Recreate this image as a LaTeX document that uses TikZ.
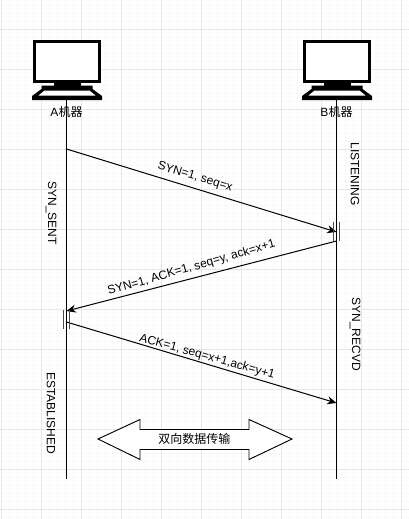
\documentclass[tikz,border=0pt]{standalone}
\usepackage{fontspec}
\setmainfont{Liberation Sans}
\newfontfamily\cjk{Noto Sans CJK SC}
\usepackage{xcolor}
\usetikzlibrary{arrows.meta,positioning,calc}
\definecolor{gridminor}{HTML}{F8F8F8}
\definecolor{gridmajor}{HTML}{E6E6E6}

\begin{document}
\begin{tikzpicture}[
  x=0.75pt,y=-0.75pt,
  lifeline/.style={draw=black,line width=0.85pt},
  msg/.style={draw=black,line width=0.75pt,-{Stealth[length=7pt,width=6pt]}},
  tick/.style={draw=black!70,line width=0.6pt},
  lbl/.style={font=\fontsize{9}{11}\selectfont,inner sep=0pt},
  state/.style={lbl,rotate=-90},
  pc/.pic={
    \fill (-34,-43.5) rectangle (34.5,0);
    \fill[white] (-30.5,-40) rectangle (31,-3.5);
    \fill (-13,0) rectangle (14,3);
    \fill (-25,2.5) -- (26,2.5) -- (26,6) -- (35.5,13) -- (35.5,17) -- (-34.5,17) -- (-34.5,13) -- (-25,6) -- cycle;
    \fill[white] (-22,7.5) -- (23,7.5) -- (29,12.5) -- (-28,12.5) -- cycle;
  }]
 \useasboundingbox (0,0) rectangle (409,519);
 \fill[white] (0,0) rectangle (409,519);
 % grid
 \foreach \i in {0,...,51} \draw[gridminor,line width=0.5pt] (1.7+\i*8,0)--(1.7+\i*8,519);
 \foreach \i in {0,...,64} \draw[gridminor,line width=0.5pt] (0,5.3+\i*8)--(409,5.3+\i*8);
 \foreach \i in {0,...,10} \draw[gridmajor,line width=0.5pt] (1.7+\i*40,0)--(1.7+\i*40,519);
 \foreach \i in {0,...,12} \draw[gridmajor,line width=0.5pt] (0,29.3+\i*40)--(409,29.3+\i*40);

 % lifelines
 \coordinate (a top) at (66.5,99);
 \coordinate (a end) at (66.5,479);
 \coordinate (b top) at (336.5,99);
 \coordinate (b end) at (336.5,479);
 \draw[lifeline] (a top)--(a end);
 \draw[lifeline] (b top)--(b end);

 % machines
 \pic at (66.5,83) {pc};
 \pic at (336.5,83) {pc};
 \node[lbl] (a name) at (66.5,112) {A{\cjk 机器}};
 \node[lbl] (b name) at (336.5,112) {B{\cjk 机器}};

 % handshake
 \coordinate (a1) at (66.5,149);
 \coordinate (b1) at (336.5,232);
 \coordinate (b2) at (336.5,241);
 \coordinate (a2) at (66.5,311);
 \coordinate (a3) at (66.5,322);
 \coordinate (b3) at (336.5,403);
 \draw[msg] (a1)--(b1);
 \draw[msg] (b2)--(a2);
 \draw[msg] (a3)--(b3);
 \coordinate (b tick) at (336.5,222);
 \coordinate (a tick) at (66.5,310);
 \draw[tick] ([xshift=-2.2pt]b tick)--++(0,19);
 \draw[tick] ([xshift=2.2pt]b tick)--++(0,19);
 \draw[tick] ([xshift=-2.2pt]a tick)--++(0,19);
 \draw[tick] ([xshift=2.2pt]a tick)--++(0,19);

 \node[lbl,rotate=-16.5] (syn) at (195,177) {SYN=1, seq=x};
 \node[lbl,rotate=16] (synack) at (191.5,268) {SYN=1, ACK=1, seq=y, ack=x+1};
 \node[lbl,rotate=-15.5] (ack) at (207,357) {ACK=1, seq=x+1,ack=y+1};

 \node[state] (sent) at (51,213) {SYN\_SENT};
 \node[state] (est) at (51,413) {ESTABLISHED};
 \node[state] (listen) at (355,174) {LISTENING};
 \node[state] (recvd) at (355,334) {SYN\_RECVD};

 % data arrow
 \draw[line width=0.7pt,fill=white] (98,439)--(140,419.5)--(140,429.5)--(249,429.5)--(249,419.5)--(292,439)--(249,459.5)--(249,449.5)--(140,449.5)--(140,459.5)--cycle;
 \node[lbl] (data) at (194.5,439) {\cjk 双向数据传输};
\end{tikzpicture}
\end{document}
